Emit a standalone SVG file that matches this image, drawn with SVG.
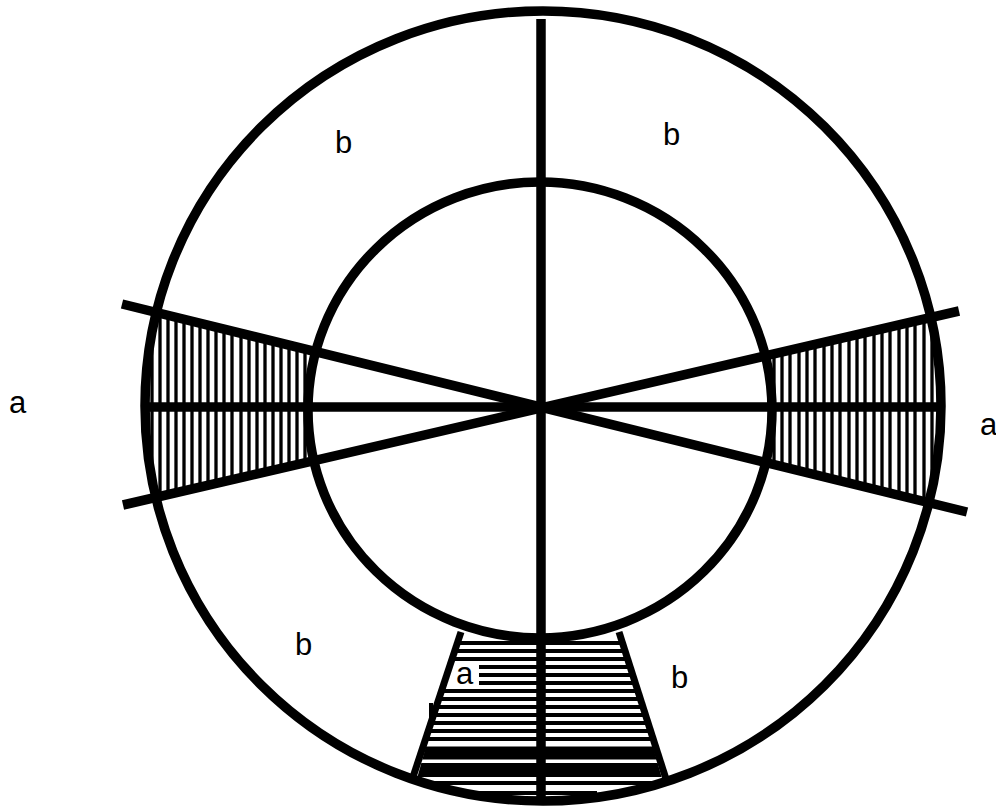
<svg xmlns="http://www.w3.org/2000/svg" width="996" height="810" viewBox="0 0 996 810">
<style>
.thick{fill:none;stroke:#000;stroke-width:9.5}
.hatch{fill:none;stroke:#000;stroke-width:3.3}
.hatchb{fill:none;stroke:#000;stroke-width:4}
.lbl{font-family:"Liberation Sans",Arial,sans-serif;font-size:31px;fill:#000}
</style>
<defs>
<clipPath id="wedgeL"><polygon points="122,304 541,407 123,504"/></clipPath>
<clipPath id="wedgeR"><polygon points="967,510 541,407 958,312"/></clipPath>
<clipPath id="trap"><polygon points="460,625 619,625 668,800 411,800"/></clipPath>
<mask id="ring" maskUnits="userSpaceOnUse" x="0" y="0" width="996" height="810">
<ellipse cx="543" cy="406" rx="398" ry="395" fill="#fff"/>
<ellipse cx="540" cy="410" rx="232" ry="228" fill="#000"/>
</mask>
</defs>
<rect width="996" height="810" fill="#fff"/>
<g id="hatch-left" clip-path="url(#wedgeL)">
<path class="hatch" mask="url(#ring)" d="M152,290V520M160,290V520M168,290V520M176,290V520M184,290V520M192,290V520M200,290V520M208,290V520M216,290V520M224,290V520M232,290V520M241,290V520M249,290V520M257,290V520M265,290V520M273,290V520M281,290V520M289,290V520M297,290V520M305,290V520"/>
</g>
<g id="hatch-right" clip-path="url(#wedgeR)">
<path class="hatch" mask="url(#ring)" d="M774,290V530M782,290V530M790,290V530M799,290V530M807,290V530M815,290V530M824,290V530M832,290V530M840,290V530M849,290V530M857,290V530M865,290V530M874,290V530M882,290V530M890,290V530M899,290V530M907,290V530M915,290V530M924,290V530M932,290V530M940,290V530"/>
</g>
<g id="hatch-bottom" clip-path="url(#trap)">
<g mask="url(#ring)">
<path class="hatchb" d="M400,643H680M400,651H680M400,659H680M479,667H680M479,675H680M479,683H680M400,691H680M400,699H680M400,707H680M400,715H680M400,723H680M400,731H680M400,739H680M400,783H680"/>
<path fill="none" stroke="#000" stroke-width="13" d="M400,753H680"/>
<path fill="none" stroke="#000" stroke-width="14" d="M400,770H680"/>
</g>
<path class="hatchb" d="M455,793H597"/>
</g>
<g id="connectors">
<line class="thick" x1="541" y1="19" x2="541" y2="805"/>
<line class="thick" x1="145" y1="407" x2="938" y2="407"/>
<line class="thick" x1="122" y1="304" x2="967" y2="512"/>
<line class="thick" x1="123" y1="505" x2="959" y2="311"/>
<line fill="none" stroke="#000" stroke-width="7" x1="461" y1="632" x2="413" y2="777"/>
<line fill="none" stroke="#000" stroke-width="7" x1="619" y1="632" x2="666" y2="779"/>
<path fill="#000" d="M429,703h4v16h-4z"/>
</g>
<g id="outer-circle"><ellipse class="thick" cx="543" cy="406" rx="398" ry="395"/></g>
<g id="inner-circle"><ellipse class="thick" cx="540" cy="410" rx="232" ry="228"/></g>
<g id="labels">
<text class="lbl" x="9" y="413">a</text>
<text class="lbl" x="980" y="435">a</text>
<text class="lbl" x="335" y="153">b</text>
<text class="lbl" x="663" y="145">b</text>
<text class="lbl" x="295" y="655">b</text>
<text class="lbl" x="671" y="688">b</text>
<text class="lbl" x="456" y="684">a</text>
</g>
</svg>
